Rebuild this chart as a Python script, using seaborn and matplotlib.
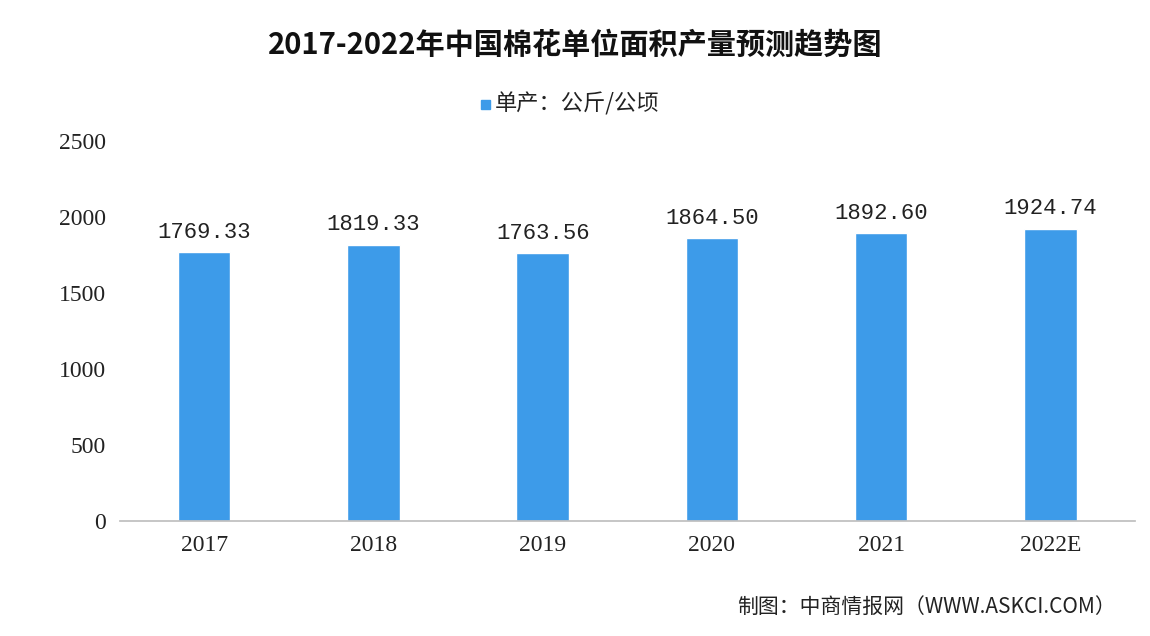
import matplotlib
matplotlib.use("Agg")
import matplotlib.pyplot as plt
import seaborn as sns
import pandas as pd

years = ["2017", "2018", "2019", "2020", "2021", "2022E"]
yields = [1769.33, 1819.33, 1763.56, 1864.50, 1892.60, 1924.74]
BLUE = "#3d9be9"

sns.set_theme(style="white")
plt.rcParams["font.family"] = ["Noto Sans CJK SC", "DejaVu Sans"]

df = pd.DataFrame({"year": years, "value": yields})
fig = plt.figure(figsize=(11.5, 6.36), dpi=100)
ax = fig.add_axes([0.104, 0.181, 0.883, 0.597])
sns.barplot(data=df, x="year", y="value", color=BLUE, width=0.31,
            saturation=1, ax=ax)

for i, v in enumerate(yields):
    ax.text(i, v + 60, f"{v:.2f}", ha="center", va="bottom",
            fontsize=16, family="Liberation Mono", color="#222222")

ax.set_ylim(0, 2500)
ax.set_yticks(range(0, 2501, 500))
ax.set_xlabel("")
ax.set_ylabel("")
for s in ["top", "right", "left"]:
    ax.spines[s].set_visible(False)
ax.spines["bottom"].set_color("#bfbfbf")
ax.tick_params(axis="both", length=0, labelsize=17, colors="#222222", pad=10)
for lab in ax.get_xticklabels() + ax.get_yticklabels():
    lab.set_family("Liberation Serif")

fig.text(0.5, 0.93, "2017-2022年中国棉花单位面积产量预测趋势图", ha="center",
         va="center", fontsize=21, fontweight="bold", color="#111111")
fig.patches.append(plt.Rectangle((0.418, 0.829), 0.008, 0.014, color=BLUE,
                                 transform=fig.transFigure, figure=fig))
fig.text(0.43, 0.837, "单产：公斤/公顷", ha="left", va="center",
         fontsize=16, color="#222222")
fig.text(0.97, 0.045, "制图：中商情报网（WWW.ASKCI.COM）", ha="right",
         va="center", fontsize=15, color="#222222")

fig.savefig("out.png", dpi=100)
